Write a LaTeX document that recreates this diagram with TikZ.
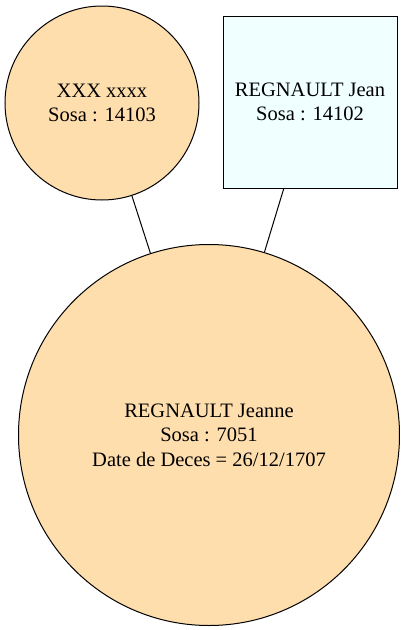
\documentclass[tikz,border=0pt]{standalone}
\usepackage{fontspec}
\setmainfont{Liberation Serif}
\usepackage{xcolor}
\definecolor{personcolor}{HTML}{FFDEAD}
\definecolor{knowncolor}{HTML}{F0FFFF}

\begin{document}
\begin{tikzpicture}[
    x=1pt, y=-1pt,
    line width=1pt,
    person/.style={circle, draw, fill=personcolor,
                   align=center, inner sep=0pt,
                   font=\fontsize{20.5}{24.5}\selectfont},
    known/.style={rectangle, draw, fill=knowncolor,
                  align=center, inner sep=0pt,
                  font=\fontsize{20.5}{24.5}\selectfont}
]
\useasboundingbox (0,0) rectangle (402,630);
\node[person, minimum size=194pt] (mother) at (102,103) {XXX xxxx\\Sosa : 14103};
\node[known, minimum width=174pt, minimum height=172pt] (father) at (310,102) {REGNAULT Jean\\Sosa : 14102};
\node[person, minimum size=381pt] (child) at (209,435) {REGNAULT Jeanne\\Sosa : 7051\\Date de Deces = 26/12/1707};
\draw (mother) -- (child);
\draw (father) -- (child);
\end{tikzpicture}
\end{document}
